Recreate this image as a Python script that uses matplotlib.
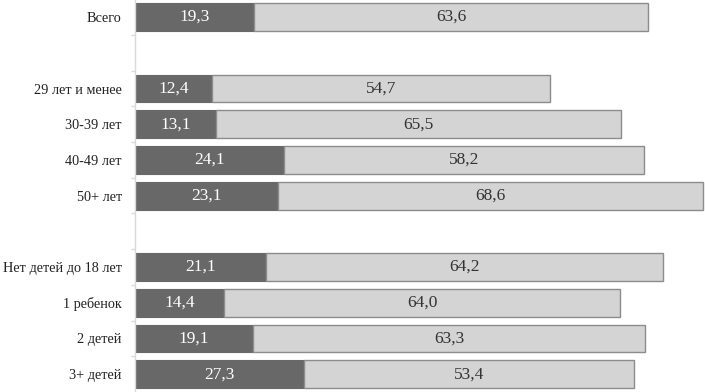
import matplotlib.pyplot as plt
import numpy as np

plt.rcParams['font.family'] = ['Liberation Serif', 'DejaVu Serif']

labels = ['Всего', '', '29 лет и менее', '30-39 лет', '40-49 лет', '50+ лет', '',
          'Нет детей до 18 лет', '1 ребенок', '2 детей', '3+ детей']
dark = [19.3, None, 12.4, 13.1, 24.1, 23.1, None, 21.1, 14.4, 19.1, 27.3]
light = [63.6, None, 54.7, 65.5, 58.2, 68.6, None, 64.2, 64.0, 63.3, 53.4]

fig = plt.figure(figsize=(7.05, 3.92), dpi=100)
ax = fig.add_axes([135 / 705, 0, 570 / 705, 1])

for i, (d, l) in enumerate(zip(dark, light)):
    if d is None:
        continue
    ax.barh(i, d, height=0.78, color='#686868', edgecolor='#686868', linewidth=0.8)
    ax.barh(i, l, left=d, height=0.78, color='#d4d4d4', edgecolor='#8c8c8c', linewidth=1.0)
    ax.text(d / 2, i, f'{d:.1f}'.replace('.', ','), ha='center', va='center',
            color='white', fontsize=12.5)
    ax.text(d + l / 2, i, f'{l:.1f}'.replace('.', ','), ha='center', va='center',
            color='#333333', fontsize=12.5)

ax.set_xlim(0, 92.1)
ax.set_ylim(10.5, -0.48)
ax.set_xticks([])
pos = [i for i, lab in enumerate(labels) if lab]
ax.set_yticks(pos)
ax.set_yticklabels([labels[i] for i in pos], fontsize=10.3, color='#222222')
ax.tick_params(axis='y', which='major', length=0, pad=9.5)
ax.set_yticks(np.arange(0.5, 10, 1), minor=True)
ax.tick_params(axis='y', which='minor', length=3, color='#d9d9d9', width=1)
for s in ['top', 'right', 'bottom']:
    ax.spines[s].set_visible(False)
ax.spines['left'].set_color('#d9d9d9')
ax.spines['left'].set_linewidth(1)

fig.savefig('out.png', dpi=100)
